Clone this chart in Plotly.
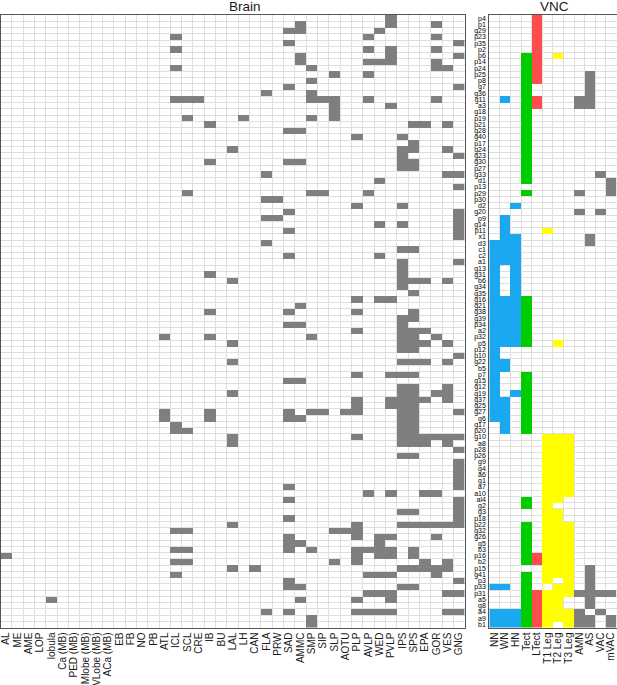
import plotly.graph_objects as go

# ---------------- data ----------------
neurons = ["p4","p1","g29","p23","p35","p2","p6","p14","p24","p25","p8","g7","g36","g11","a3","g18","p19","p21",
           "g28","g40","p17","g24","g23","g30","p27","g33","d1","p13","p29","p30","d2","g20","p9","g14","p11","x1",
           "d3","c1","c2","a1","g13","g31","b6","g34","g35","g16","g21","g38","g39","p34","a2","p32","p5","p12",
           "p10","g22","b5","p7","g15","g12","g19","g37","g25","g27","g6","g17","p20","g10","a8","p28","p26","g9",
           "g4","a6","g1","a7","a10","al4","g2","g3","p18","p22","g32","g26","g5","b3","p16","b2","p15","g41","p3",
           "p33","p31","a5","g8","a4","a9","b1"]

brain_regions = ["AL","ME","AME","LOP","lobula","Ca (MB)","PED (MB)","Mlobe (MB)","VLobe (MB)","ACa (MB)","EB","FB",
                 "NO","PB","ATL","ICL","SCL","CRE","IB","BU","LAL","LH","CAN","FLA","PRW","SAD","AMMC","SMP","SIP",
                 "SLP","AOTU","PLP","AVLP","WED","PVLP","IPS","SPS","EPA","GOR","VES","GNG"]

vnc_regions = ["NN","WN","HN","Tect","LTect","T1 Leg","T2 Leg","T3 Leg","AMN","AS","VAC","mVAC"]

# brain innervation (neurons with arbors in each region)
brain_AL = ["p16"]
brain_lobula = ["a5"]
brain_ATL = ["p32","g27","g6"]
brain_ICL = ["p23","p2","p24","g11","g17","p20","g32","b3","b2","g41"]
brain_SCL = ["g11","p19","p29","p20","g32","b3","b2"]
brain_CRE = ["g11"]
brain_IB = ["p21","g30","g31","g38","p32","g27","g6"]
brain_LAL = ["g24","b6","p5","g22","g19","g10","a8","p22","p15"]
brain_LH = ["p19"]
brain_CAN = ["p15"]
brain_FLA = ["g36","g33","p30","p9","d3","a4"]
brain_PRW = ["p30","p9"]
brain_SAD = ["g29","p35","g7","g28","g30","g20","p11","c2","g38","p34","g15","g27","g6","a7","al4","p18","g26",
             "g5","b3","p3","p33","a4"]
brain_AMMC = ["p1","g29","p6","p14","g28","g30","g21","p34","g15","g6","g5","p33","a5"]
brain_SMP = ["p24","p8","g36","g11","p19","p29","p32","g27","b3","a9","b1"]
brain_SIP = ["g11","p29","g27"]
brain_SLP = ["p25","g11","a3","g18","p19","g32","b2"]
brain_AOTU = ["g27","g32"]
brain_PLP = ["g40","d2","g16","g38","a2","p7","g37","g25","g27","g10","p22","g32","g26","b3","p16","b2","a5","a4"]
brain_AVLP = ["p23","p2","p14","p25","g11","p29","a10","b3","g41","p31","a4"]
brain_WED = ["g29","p14","d1","g14","c2","g16","g26","g5","b3","p16","g41","p31","a4"]
brain_PVLP = ["p4","p1","p2","p6","p14","a3","g16","p7","g37","g25","a10","g26","b3","p16","g41","p31","a5","a4"]
brain_IPS = ["g40","g24","g23","g30","p27","d2","g14","c1","a1","g13","g31","b6","g34","g39","p34","a2","p32","p5",
             "p12","g22","p7","g12","g19","g37","g25","g27","g6","g17","p20","g10","a8","p26","g3","p22","p15","p33"]
brain_SPS = ["p21","p17","g24","g30","p27","c1","b6","g35","g38","g39","a2","p32","p5","p12","g22","p7","g12","g19",
             "g37","g25","g27","g6","g17","p20","g10","a8","p26","g3","p22","b3","p16","p15","p33"]
brain_EPA = ["p21","b6","a2","p5","g22","g37","g10","a8","a10","p22","b2","p15"]
brain_GOR = ["p1","p23","p2","p14","p24","g11","p32","g19","g10","a10","p22","g26","p15","g41"]
brain_VES = ["p24","p21","g24","g33","b6","p5","g22","g12","g19","g37","g10","a8","p22","b2","p15","p31","a4"]
brain_GNG = ["p35","p6","g7","g23","g33","p13","g20","p9","g14","p11","x1","a1","p10","g27","g10","p28","g9","g4",
             "a6","g1","a7","al4","g2","g3","p18","p22","p3","p31","a4"]

# VNC innervation
vnc_NN = ["d3","c1","c2","a1","g13","g31","b6","g34","g35","g16","g21","g38","g39","p34","a2","p32","p5","p12",
          "p10","g22","b5","p7","g15","g12","g19","g37","g25","g27","g6","p33","a4","a9","b1"]
vnc_WN = ["g11","p9","g14","p11","x1","d3","c1","c2","a1","g16","g21","g38","g39","p34","a2","p32","p5","g22","b5",
          "g37","g25","g27","g6","g17","p20","p33","a4","a9","b1"]
vnc_HN = ["d2","x1","d3","c1","c2","a1","g13","g31","b6","g34","g35","g16","g21","g38","g39","p34","a2","p32","p5",
          "g19","a4","a9","b1"]
vnc_Tect = ["p6","p14","p24","p25","p8","g7","g36","g11","a3","g18","p19","p21","g28","g40","p17","g24","g23","g30",
            "p27","g33","d1","p29","g16","g21","g38","g39","p34","a2","p32","p5","p7","g15","g12","g19","g37","g25",
            "g27","g6","g17","p20","al4","g2","p22","g32","g26","g5","b3","p16","b2","g41","p3","p33","p31","a5",
            "g8","a4","a9","b1"]
vnc_LTect = ["p4","p1","g29","p23","p35","p2","p6","p14","p24","p25","p8","g11","a3","p16","b2","p31","a5","g8",
             "a4","a9","b1"]
vnc_T1 = ["p11","g10","a8","p28","p26","g9","g4","a6","g1","a7","a10","al4","g2","g3","p18","p22","g32","g26","g5",
          "b3","p16","b2","p15","g41","p3","p31","a5","g8","a4","a9","b1"]
vnc_T2 = ["p6","p5","g10","a8","p28","p26","g9","g4","a6","g1","a7","a10","al4","g3","p18","p22","g32","g26","g5",
          "b3","p16","b2","p15","g41","p33","p31","a5","g8","a4","a9"]
vnc_T3 = ["g10","a8","p28","p26","g9","g4","a6","g1","a7","a10","p22","g32","g26","g5","b3","p16","b2","p15","g41",
          "p3","p33","p31","a4","a9","b1"]
vnc_AMN = ["g11","a3","p29","g20","p31","a4","a9","b1"]
vnc_AS = ["p25","p8","g7","g36","g11","a3","x1","d3","p15","g41","p3","p33","p31","a5","g8","a9","b1"]
vnc_VAC = ["g33","g20","p31","a4"]
vnc_mVAC = ["d1","p13","p29","p31","a9","b1"]

brain_sets = {"AL": brain_AL, "lobula": brain_lobula, "ATL": brain_ATL, "ICL": brain_ICL, "SCL": brain_SCL,
              "CRE": brain_CRE, "IB": brain_IB, "LAL": brain_LAL, "LH": brain_LH, "CAN": brain_CAN,
              "FLA": brain_FLA, "PRW": brain_PRW, "SAD": brain_SAD, "AMMC": brain_AMMC, "SMP": brain_SMP,
              "SIP": brain_SIP, "SLP": brain_SLP, "AOTU": brain_AOTU, "PLP": brain_PLP, "AVLP": brain_AVLP,
              "WED": brain_WED, "PVLP": brain_PVLP, "IPS": brain_IPS, "SPS": brain_SPS, "EPA": brain_EPA,
              "GOR": brain_GOR, "VES": brain_VES, "GNG": brain_GNG}
vnc_sets = {"NN": vnc_NN, "WN": vnc_WN, "HN": vnc_HN, "Tect": vnc_Tect, "LTect": vnc_LTect, "T1 Leg": vnc_T1,
            "T2 Leg": vnc_T2, "T3 Leg": vnc_T3, "AMN": vnc_AMN, "AS": vnc_AS, "VAC": vnc_VAC, "mVAC": vnc_mVAC}
# colour class per VNC column: 1 gray, 2 blue, 3 green, 4 red, 5 yellow
vnc_class = {"NN": 2, "WN": 2, "HN": 2, "Tect": 3, "LTect": 4, "T1 Leg": 5, "T2 Leg": 5, "T3 Leg": 5,
             "AMN": 1, "AS": 1, "VAC": 1, "mVAC": 1}

# ---------------- build matrices ----------------
z_brain = [[(1 if n in brain_sets.get(r, []) else None) for r in brain_regions] for n in neurons]
z_vnc = [[(vnc_class[r] if n in vnc_sets[r] else None) for r in vnc_regions] for n in neurons]

GRAY, BLUE, GREEN, RED, YELLOW = "#7f7f7f", "#1aa9f0", "#00cc00", "#ff4d4d", "#ffff00"
cscale = [[0, GRAY], [0.125, GRAY], [0.125, BLUE], [0.375, BLUE], [0.375, GREEN], [0.625, GREEN],
          [0.625, RED], [0.875, RED], [0.875, YELLOW], [1, YELLOW]]

W, H = 617, 685
yi = list(range(len(neurons)))

fig = go.Figure()
fig.add_trace(go.Heatmap(z=z_brain, x=list(range(len(brain_regions))), y=yi, zmin=1, zmax=5,
                         colorscale=cscale, showscale=False, hoverinfo="skip", xaxis="x", yaxis="y"))
fig.add_trace(go.Heatmap(z=z_vnc, x=list(range(len(vnc_regions))), y=yi, zmin=1, zmax=5,
                         colorscale=cscale, showscale=False, hoverinfo="skip", xaxis="x2", yaxis="y2"))

FONT = "Liberation Sans, Arial, sans-serif"
NARROW = "Liberation Sans Narrow, Arial Narrow, Liberation Sans, Arial, sans-serif"
ydom = [1 - 627.5 / H, 1 - 15 / H]

def xaxis_cfg(labels, dom, anchor):
    return dict(domain=dom, range=[-0.5, len(labels) - 0.5], tickmode="array", anchor=anchor,
                tickvals=list(range(len(labels))), ticktext=labels, tickangle=-90,
                tickfont=dict(family=FONT, size=10, color="#1a1a1a"), showgrid=False, zeroline=False,
                showline=True, mirror=True, linecolor="#555555", linewidth=1, ticks="",
                minor=dict(tickmode="linear", tick0=-0.5, dtick=1, showgrid=True, gridcolor="#dedede",
                           gridwidth=1, ticks=""),
                automargin=False, fixedrange=True)

def yaxis_cfg(show, anchor):
    return dict(domain=ydom, range=[len(neurons) - 0.5, -0.5], tickmode="array", tickvals=yi,
                ticktext=neurons, showticklabels=show, anchor=anchor,
                tickfont=dict(family=NARROW, size=7, color="#000000"), showgrid=False, zeroline=False,
                showline=True, mirror=True, linecolor="#555555", linewidth=1, ticks="",
                minor=dict(tickmode="linear", tick0=-0.5, dtick=1, showgrid=True, gridcolor="#dedede",
                           gridwidth=1, ticks=""),
                automargin=False, fixedrange=True, ticklabelstandoff=1)

fig.update_layout(
    width=W, height=H, margin=dict(l=0, r=0, t=0, b=0),
    paper_bgcolor="white", plot_bgcolor="white", showlegend=False,
    xaxis=xaxis_cfg(brain_regions, [0.5 / W, 464.7 / W], "y"),
    yaxis=yaxis_cfg(False, "x"),
    xaxis2=xaxis_cfg(vnc_regions, [489.3 / W, 616.5 / W], "y2"),
    yaxis2=yaxis_cfg(True, "x2"),
    annotations=[
        dict(text="Brain", x=245 / W, y=1 - 7 / H, xref="paper", yref="paper", showarrow=False,
             font=dict(family=FONT, size=13.5, color="#1a1a1a"), xanchor="center", yanchor="middle"),
        dict(text="VNC", x=554 / W, y=1 - 7 / H, xref="paper", yref="paper", showarrow=False,
             font=dict(family=FONT, size=13.5, color="#1a1a1a"), xanchor="center", yanchor="middle"),
    ],
)

fig.write_html("out.html", config={"displayModeBar": False},
               post_script="document.body.style.margin='0';document.body.style.overflow='hidden';")
